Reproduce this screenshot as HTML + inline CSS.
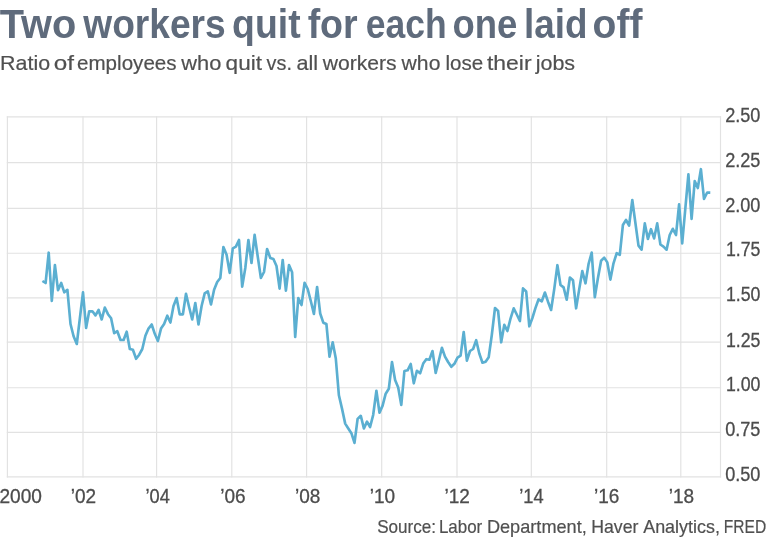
<!DOCTYPE html>
<html><head><meta charset="utf-8"><title>Two workers quit for each one laid off</title>
<style>
html,body{margin:0;padding:0;background:#fff;}
body{width:768px;height:537px;overflow:hidden;font-family:"Liberation Sans",sans-serif;}
svg{display:block;filter:blur(0.45px)}
text{font-family:"Liberation Sans",sans-serif;}
.grid line{stroke:#e2e2e2;stroke-width:1.15}
.ax text{font-size:19.7px;fill:#4c4c4c;stroke:#4c4c4c;stroke-width:0.3px}
</style></head><body>
<svg width="768" height="537" viewBox="0 0 768 537">
<rect width="768" height="537" fill="#fff"/>
<text x="-0.22" y="37.6" textLength="76.52" lengthAdjust="spacingAndGlyphs" font-size="41.3" font-weight="bold" fill="#5f6b7c">Two</text>
<text x="83.29" y="37.6" textLength="142.44" lengthAdjust="spacingAndGlyphs" font-size="41.3" font-weight="bold" fill="#5f6b7c">workers</text>
<text x="232.1" y="37.6" textLength="68.53" lengthAdjust="spacingAndGlyphs" font-size="41.3" font-weight="bold" fill="#5f6b7c">quit</text>
<text x="307.63" y="37.6" textLength="50.04" lengthAdjust="spacingAndGlyphs" font-size="41.3" font-weight="bold" fill="#5f6b7c">for</text>
<text x="365.75" y="37.6" textLength="80.81" lengthAdjust="spacingAndGlyphs" font-size="41.3" font-weight="bold" fill="#5f6b7c">each</text>
<text x="452.59" y="37.6" textLength="64.8" lengthAdjust="spacingAndGlyphs" font-size="41.3" font-weight="bold" fill="#5f6b7c">one</text>
<text x="524.09" y="37.6" textLength="63.43" lengthAdjust="spacingAndGlyphs" font-size="41.3" font-weight="bold" fill="#5f6b7c">laid</text>
<text x="592.62" y="37.6" textLength="49.82" lengthAdjust="spacingAndGlyphs" font-size="41.3" font-weight="bold" fill="#5f6b7c">off</text>
<text x="0.1" y="69.9" textLength="50.0" lengthAdjust="spacingAndGlyphs" font-size="20.6" fill="#505050" stroke="#505050" stroke-width="0.2">Ratio</text>
<text x="53.84" y="69.9" textLength="20.24" lengthAdjust="spacingAndGlyphs" font-size="20.6" fill="#505050" stroke="#505050" stroke-width="0.2">of</text>
<text x="77.04" y="69.9" textLength="99.53" lengthAdjust="spacingAndGlyphs" font-size="20.6" fill="#505050" stroke="#505050" stroke-width="0.2">employees</text>
<text x="181.29" y="69.9" textLength="40.07" lengthAdjust="spacingAndGlyphs" font-size="20.6" fill="#505050" stroke="#505050" stroke-width="0.2">who</text>
<text x="225.6" y="69.9" textLength="36.38" lengthAdjust="spacingAndGlyphs" font-size="20.6" fill="#505050" stroke="#505050" stroke-width="0.2">quit</text>
<text x="266.59" y="69.9" textLength="25.32" lengthAdjust="spacingAndGlyphs" font-size="20.6" fill="#505050" stroke="#505050" stroke-width="0.2">vs.</text>
<text x="296.47" y="69.9" textLength="21.62" lengthAdjust="spacingAndGlyphs" font-size="20.6" fill="#505050" stroke="#505050" stroke-width="0.2">all</text>
<text x="322.66" y="69.9" textLength="73.89" lengthAdjust="spacingAndGlyphs" font-size="20.6" fill="#505050" stroke="#505050" stroke-width="0.2">workers</text>
<text x="401.62" y="69.9" textLength="38.78" lengthAdjust="spacingAndGlyphs" font-size="20.6" fill="#505050" stroke="#505050" stroke-width="0.2">who</text>
<text x="445.42" y="69.9" textLength="37.71" lengthAdjust="spacingAndGlyphs" font-size="20.6" fill="#505050" stroke="#505050" stroke-width="0.2">lose</text>
<text x="486.97" y="69.9" textLength="44.6" lengthAdjust="spacingAndGlyphs" font-size="20.6" fill="#505050" stroke="#505050" stroke-width="0.2">their</text>
<text x="535.68" y="69.9" textLength="39.39" lengthAdjust="spacingAndGlyphs" font-size="20.6" fill="#505050" stroke="#505050" stroke-width="0.2">jobs</text>
<g class="grid">
<line x1="7.40" y1="116.30000000000001" x2="7.40" y2="477.50"/>
<line x1="83.00" y1="116.30000000000001" x2="83.00" y2="477.50"/>
<line x1="156.60" y1="116.30000000000001" x2="156.60" y2="477.50"/>
<line x1="231.80" y1="116.30000000000001" x2="231.80" y2="477.50"/>
<line x1="306.60" y1="116.30000000000001" x2="306.60" y2="477.50"/>
<line x1="381.70" y1="116.30000000000001" x2="381.70" y2="477.50"/>
<line x1="457.00" y1="116.30000000000001" x2="457.00" y2="477.50"/>
<line x1="531.30" y1="116.30000000000001" x2="531.30" y2="477.50"/>
<line x1="606.70" y1="116.30000000000001" x2="606.70" y2="477.50"/>
<line x1="680.80" y1="116.30000000000001" x2="680.80" y2="477.50"/>
<line x1="720.50" y1="116.30000000000001" x2="720.50" y2="477.50"/>
<line x1="6.800000000000001" y1="116.90" x2="721.1" y2="116.90"/>
<line x1="6.800000000000001" y1="162.60" x2="721.1" y2="162.60"/>
<line x1="6.800000000000001" y1="208.40" x2="721.1" y2="208.40"/>
<line x1="6.800000000000001" y1="253.20" x2="721.1" y2="253.20"/>
<line x1="6.800000000000001" y1="297.80" x2="721.1" y2="297.80"/>
<line x1="6.800000000000001" y1="342.10" x2="721.1" y2="342.10"/>
<line x1="6.800000000000001" y1="387.70" x2="721.1" y2="387.70"/>
<line x1="6.800000000000001" y1="432.40" x2="721.1" y2="432.40"/>
<line x1="6.800000000000001" y1="476.90" x2="721.1" y2="476.90"/>
</g>
<path d="M42.4,281.0 L45.6,283.0 L48.7,252.7 L51.8,301.0 L54.9,265.0 L58.0,290.2 L61.2,283.0 L64.3,292.3 L67.4,289.8 L70.5,324.0 L73.6,336.3 L76.8,344.0 L79.9,318.0 L83.0,292.3 L86.1,328.0 L89.2,311.3 L92.4,311.3 L95.5,315.4 L98.6,310.0 L101.7,319.5 L104.8,307.6 L108.0,314.2 L111.1,318.3 L114.2,333.2 L117.3,331.2 L120.5,340.0 L123.6,340.0 L126.7,331.7 L129.8,349.0 L132.9,349.8 L136.1,358.8 L139.2,354.7 L142.3,349.0 L145.4,335.8 L148.5,328.6 L151.7,324.5 L154.8,333.8 L157.9,341.0 L161.0,328.6 L164.1,324.0 L167.3,315.7 L170.4,322.5 L173.5,306.0 L176.6,298.0 L179.7,314.3 L182.9,314.3 L186.0,293.8 L189.1,307.0 L192.2,319.4 L195.3,303.0 L198.5,324.5 L201.6,306.0 L204.7,293.4 L207.8,291.3 L211.0,304.4 L214.1,289.7 L217.2,282.0 L220.3,278.0 L223.4,247.0 L226.6,254.8 L229.7,272.9 L232.8,248.3 L235.9,246.6 L239.0,240.0 L242.2,286.6 L245.3,268.0 L248.4,240.0 L251.5,263.0 L254.6,234.8 L257.8,257.0 L260.9,278.0 L264.0,272.0 L267.1,249.0 L270.3,258.0 L273.4,259.0 L276.5,266.0 L279.6,288.6 L282.7,260.0 L285.9,290.7 L289.0,265.0 L292.1,272.3 L295.2,337.0 L298.3,298.0 L301.5,305.0 L304.6,282.8 L307.7,289.0 L310.8,301.0 L313.9,314.0 L317.1,287.0 L320.2,313.5 L323.3,322.7 L326.4,324.0 L329.5,356.6 L332.7,342.3 L335.8,358.5 L338.9,395.3 L342.0,408.6 L345.2,423.6 L348.3,428.5 L351.4,433.2 L354.5,442.9 L357.6,418.9 L360.8,415.8 L363.9,428.5 L367.0,421.6 L370.1,427.0 L373.2,414.8 L376.4,390.8 L379.5,412.7 L382.6,405.6 L385.7,393.7 L388.8,388.8 L392.0,362.0 L395.1,380.0 L398.2,387.5 L401.3,405.0 L404.4,371.0 L407.6,370.3 L410.7,364.0 L413.8,383.3 L416.9,370.8 L420.1,373.3 L423.2,363.6 L426.3,359.2 L429.4,359.7 L432.5,351.0 L435.7,373.0 L438.8,360.7 L441.9,347.8 L445.0,356.6 L448.1,362.0 L451.3,366.8 L454.4,363.8 L457.5,357.6 L460.6,355.6 L463.7,332.0 L466.9,360.7 L470.0,351.0 L473.1,349.0 L476.2,340.2 L479.3,353.5 L482.5,362.7 L485.6,361.7 L488.7,357.2 L491.8,335.0 L495.0,308.0 L498.1,311.0 L501.2,342.3 L504.3,324.8 L507.4,331.0 L510.6,318.3 L513.7,308.3 L516.8,314.5 L519.9,321.0 L523.0,288.4 L526.2,291.5 L529.3,326.3 L532.4,318.0 L535.5,307.9 L538.6,299.3 L541.8,301.3 L544.9,292.5 L548.0,301.7 L551.1,310.0 L554.2,289.4 L557.4,265.2 L560.5,285.0 L563.6,287.4 L566.7,299.7 L569.9,277.5 L573.0,280.2 L576.1,308.3 L579.2,289.4 L582.3,271.0 L585.5,283.3 L588.6,263.8 L591.7,252.5 L594.8,297.2 L597.9,278.2 L601.1,260.7 L604.2,257.6 L607.3,262.4 L610.4,279.6 L613.5,263.3 L616.7,253.2 L619.8,254.8 L622.9,225.0 L626.0,220.0 L629.1,225.5 L632.3,200.0 L635.4,223.0 L638.5,245.6 L641.6,249.7 L644.8,223.4 L647.9,239.0 L651.0,229.2 L654.1,238.4 L657.2,223.4 L660.4,244.5 L663.5,246.6 L666.6,249.7 L669.7,235.0 L672.8,228.8 L676.0,235.0 L679.1,204.4 L682.2,243.5 L685.3,208.8 L688.4,174.4 L691.6,218.9 L694.7,181.0 L697.8,188.0 L700.9,169.2 L704.0,198.9 L707.2,192.5 L710.3,192.6" fill="none" stroke="#5bafd1" stroke-width="2.65" stroke-linejoin="round" stroke-linecap="butt"/>
<g class="ax">
<text x="725.2" y="122.3" textLength="35.25" lengthAdjust="spacingAndGlyphs">2.50</text>
<text x="725.2" y="166.8" textLength="35.25" lengthAdjust="spacingAndGlyphs">2.25</text>
<text x="725.2" y="211.6" textLength="35.25" lengthAdjust="spacingAndGlyphs">2.00</text>
<text x="725.9" y="256.2" textLength="34.56" lengthAdjust="spacingAndGlyphs">1.75</text>
<text x="725.9" y="301.3" textLength="34.56" lengthAdjust="spacingAndGlyphs">1.50</text>
<text x="725.9" y="346.6" textLength="34.56" lengthAdjust="spacingAndGlyphs">1.25</text>
<text x="725.9" y="391.3" textLength="34.56" lengthAdjust="spacingAndGlyphs">1.00</text>
<text x="725.2" y="435.5" textLength="35.25" lengthAdjust="spacingAndGlyphs">0.75</text>
<text x="725.2" y="481.0" textLength="35.25" lengthAdjust="spacingAndGlyphs">0.50</text>
<text x="-0.5" y="503.0" textLength="42.47" lengthAdjust="spacingAndGlyphs" font-size="19.0">2000</text>
<text x="70.7" y="503.0" textLength="25.37" lengthAdjust="spacingAndGlyphs" font-size="19.0">’02</text>
<text x="145.5" y="503.0" textLength="24.34" lengthAdjust="spacingAndGlyphs" font-size="19.0">’04</text>
<text x="220.22" y="503.0" textLength="25.37" lengthAdjust="spacingAndGlyphs" font-size="19.0">’06</text>
<text x="294.98" y="503.0" textLength="25.37" lengthAdjust="spacingAndGlyphs" font-size="19.0">’08</text>
<text x="369.74" y="503.0" textLength="25.37" lengthAdjust="spacingAndGlyphs" font-size="19.0">’10</text>
<text x="444.5" y="503.0" textLength="25.37" lengthAdjust="spacingAndGlyphs" font-size="19.0">’12</text>
<text x="519.3" y="503.0" textLength="24.34" lengthAdjust="spacingAndGlyphs" font-size="19.0">’14</text>
<text x="594.02" y="503.0" textLength="25.37" lengthAdjust="spacingAndGlyphs" font-size="19.0">’16</text>
<text x="668.78" y="503.0" textLength="25.37" lengthAdjust="spacingAndGlyphs" font-size="19.0">’18</text>
</g>
<text x="377.16" y="532.5" textLength="58.88" lengthAdjust="spacingAndGlyphs" font-size="18.6" fill="#505050" stroke="#505050" stroke-width="0.2">Source:</text>
<text x="438.92" y="532.5" textLength="43.36" lengthAdjust="spacingAndGlyphs" font-size="18.6" fill="#505050" stroke="#505050" stroke-width="0.2">Labor</text>
<text x="486.92" y="532.5" textLength="99.86" lengthAdjust="spacingAndGlyphs" font-size="18.6" fill="#505050" stroke="#505050" stroke-width="0.2">Department,</text>
<text x="591.2" y="532.5" textLength="47.2" lengthAdjust="spacingAndGlyphs" font-size="18.6" fill="#505050" stroke="#505050" stroke-width="0.2">Haver</text>
<text x="643.18" y="532.5" textLength="76.74" lengthAdjust="spacingAndGlyphs" font-size="18.6" fill="#505050" stroke="#505050" stroke-width="0.2">Analytics,</text>
<text x="723.81" y="532.5" textLength="42.4" lengthAdjust="spacingAndGlyphs" font-size="18.6" fill="#505050" stroke="#505050" stroke-width="0.2">FRED</text>
</svg>
</body></html>
